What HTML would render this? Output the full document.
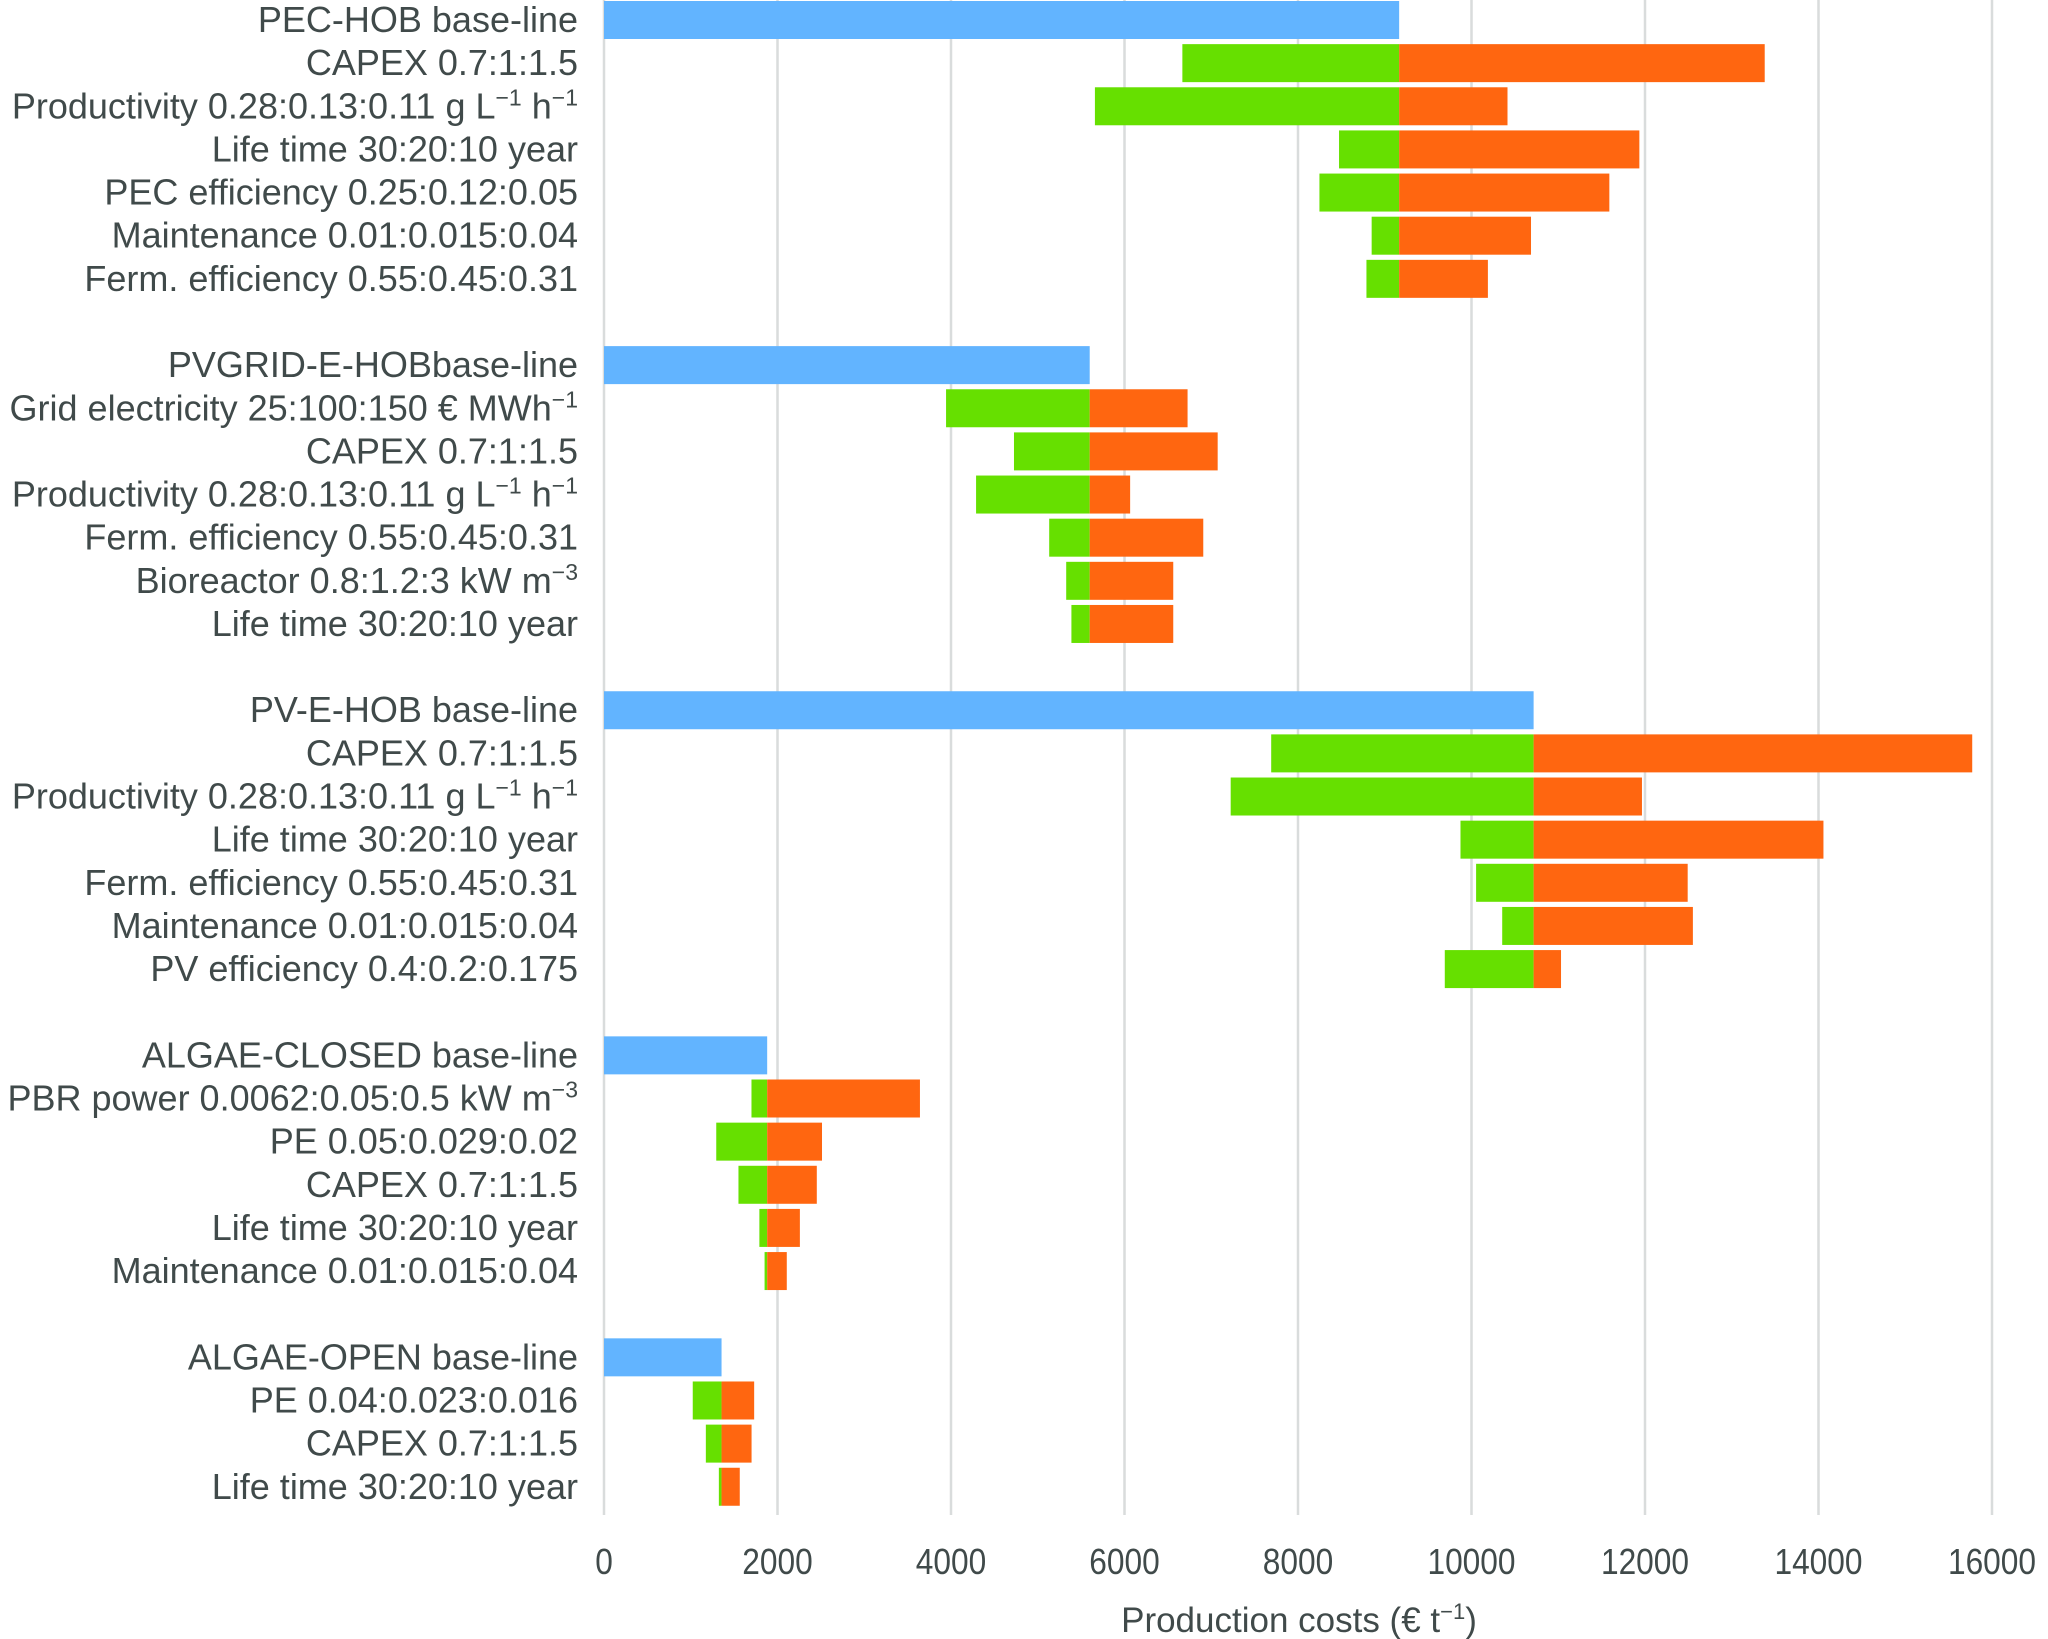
<!DOCTYPE html>
<html><head><meta charset="utf-8"><style>
html,body{margin:0;padding:0;background:#fff;}
svg{display:block;font-family:"Liberation Sans",sans-serif;}
</style></head><body>
<svg id="chart" width="2048" height="1639" viewBox="0 0 2048 1639" xmlns="http://www.w3.org/2000/svg">
<g id="grid"></g>
<g id="bars"></g>
<g id="labels"></g>
<g id="ticks"></g>
<text x="1299" y="1632" text-anchor="middle" font-size="35" fill="#404a4a">Production costs (€ t<tspan dy="-13" font-size="22">−1</tspan><tspan dy="13">)</tspan></text>
</svg>
<script>
const labels = [
"PEC-HOB base-line","CAPEX 0.7:1:1.5 ","Productivity 0.28:0.13:0.11 g L^-1 h^-1","Life time 30:20:10 year","PEC efficiency 0.25:0.12:0.05 ","Maintenance 0.01:0.015:0.04 ","Ferm. efficiency 0.55:0.45:0.31 ",
"",
"PVGRID-E-HOBbase-line","Grid electricity 25:100:150 € MWh^-1","CAPEX 0.7:1:1.5 ","Productivity 0.28:0.13:0.11 g L^-1 h^-1","Ferm. efficiency 0.55:0.45:0.31 ","Bioreactor 0.8:1.2:3  kW m^-3","Life time 30:20:10 year",
"",
"PV-E-HOB base-line","CAPEX 0.7:1:1.5 ","Productivity 0.28:0.13:0.11 g L^-1 h^-1","Life time 30:20:10 year","Ferm. efficiency 0.55:0.45:0.31 ","Maintenance 0.01:0.015:0.04 ","PV efficiency 0.4:0.2:0.175 ",
"",
"ALGAE-CLOSED  base-line","PBR power 0.0062:0.05:0.5  kW m^-3","PE 0.05:0.029:0.02 ","CAPEX 0.7:1:1.5 ","Life time 30:20:10 year","Maintenance 0.01:0.015:0.04 ",
"",
"ALGAE-OPEN  base-line","PE 0.04:0.023:0.016 ","CAPEX 0.7:1:1.5 ","Life time 30:20:10 year"
];
const baseValues = [9166,9166,9166,9166,9166,9166,9166, null, 5599,5599,5599,5599,5599,5599,5599, null, 10716,10716,10716,10716,10716,10716,10716, null, 1881,1881,1881,1881,1881,1881, null, 1355,1355,1355,1355];
const lowValues = [null,6667,5659,8473,8247,8849,8789, null, null,3943,4726,4289,5132,5328,5388, null, null,7691,7224,9873,10053,10354,9692, null, null,1700,1294,1550,1791,1851, null, null,1023,1174,1324];
const highValues = [null,13380,10415,11935,11589,10686,10189, null, null,6727,7074,6065,6908,6562,6562, null, null,15772,11965,14057,12492,12552,11032, null, null,3642,2513,2453,2258,2107, null, null,1731,1701,1565];
const tickValues = [0,2000,4000,6000,8000,10000,12000,14000,16000];

const NS="http://www.w3.org/2000/svg";
const x0=604, x1=1992, xmax=16000;
const xs=v=>x0+(v/xmax)*(x1-x0);
const y0=1, pitch=43.14, bh=38;
const ys=i=>y0+i*pitch;

const grid=document.getElementById('grid');
tickValues.forEach(t=>{
  const l=document.createElementNS(NS,'line');
  l.setAttribute('x1',xs(t));l.setAttribute('x2',xs(t));
  l.setAttribute('y1',0);l.setAttribute('y2',1515);
  l.setAttribute('stroke','#d9dcdc');l.setAttribute('stroke-width','2.5');
  
  
  grid.appendChild(l);
  const tx=document.createElementNS(NS,'text');
  tx.setAttribute('x',xs(t));tx.setAttribute('y',1574);
  tx.setAttribute('text-anchor','middle');tx.setAttribute('font-size','36');
  tx.setAttribute('fill','#404a4a');
  tx.setAttribute('transform',`translate(${xs(t)},0) scale(0.88,1) translate(${-xs(t)},0)`);
  tx.textContent=t;
  
  
  document.getElementById('ticks').appendChild(tx);
});

const bars=document.getElementById('bars');
function rect(xa,xb,y,fill,name){
  const r=document.createElementNS(NS,'rect');
  r.setAttribute('x',Math.min(xs(xa),xs(xb)));r.setAttribute('width',Math.abs(xs(xb)-xs(xa)));
  r.setAttribute('y',y);r.setAttribute('height',bh);r.setAttribute('fill',fill);
  
  
  bars.appendChild(r);
}
const lab=document.getElementById('labels');
labels.forEach((s,i)=>{
  const y=ys(i);
  if(baseValues[i]!==null){
    if(lowValues[i]===null) rect(0,baseValues[i],y,'#62b4ff','baseline-bar');
    else{
      rect(lowValues[i],baseValues[i],y,'#66e000','low-bar');
      rect(baseValues[i],highValues[i],y,'#ff6610','high-bar');
    }
  }
  if(!s) return;
  const t=document.createElementNS(NS,'text');
  t.setAttribute('x',578);t.setAttribute('y',y+bh/2+12);
  t.setAttribute('text-anchor','end');t.setAttribute('font-size','36');
  t.setAttribute('fill','#404a4a');t.setAttribute('xml:space','preserve');
  const parts=s.split(/\^(-1|-3)/);
  parts.forEach((p,k)=>{
    const sp=document.createElementNS(NS,'tspan');
    if(k%2===1){sp.textContent='−'+p.slice(1);sp.setAttribute('dy','-13');sp.setAttribute('font-size','23');}
    else{sp.textContent=p;if(k>0)sp.setAttribute('dy','13');}
    t.appendChild(sp);
  });
  
  
  lab.appendChild(t);
});
</script>
</body></html>
